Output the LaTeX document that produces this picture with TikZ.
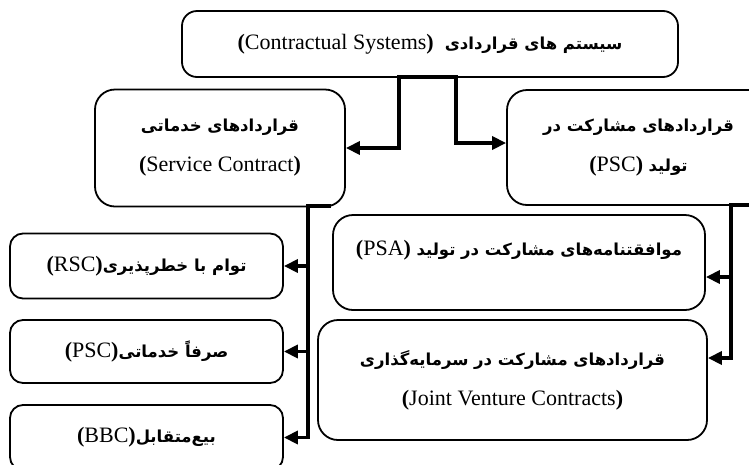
\documentclass[tikz,border=0pt]{standalone}
\usepackage{fontspec}
\setmainfont{Liberation Serif}
\newfontfamily\farsifont[Script=Arabic]{DejaVu Sans}
\TeXXeTstate=1
\usetikzlibrary{arrows.meta}
\newcommand{\fa}[1]{{\farsifont\bfseries\fontsize{16.5}{40}\selectfont\beginR #1\endR}}
\newcommand{\la}[1]{{\fontsize{22}{40}\selectfont\textbf{(}#1\textbf{)}}}
\tikzset{
  box/.style={draw, line width=1.8pt, rounded corners=15pt, inner sep=0pt, align=center,
              font=\fontsize{22}{40}\selectfont},
  bigbox/.style={box, rounded corners=20pt},
  conn/.style={line width=3.5pt},
  tip/.style={-{Triangle[length=14pt,width=13pt]}},
  tips/.style={{Triangle[length=14pt,width=13pt]}-{Triangle[length=14pt,width=13pt]}}
}
\begin{document}
\begin{tikzpicture}[x=1pt,y=-1pt]
\useasboundingbox (0,0) rectangle (749,464);
\clip (0,0) rectangle (749,464);
\fill[white] (0,0) rectangle (749,464);

\node[box, minimum width=496pt, minimum height=66pt] (top) at (430,44)
  {\la{Contractual Systems}\ \ \fa{سیستم های قراردادی}};
\node[bigbox, minimum width=250pt, minimum height=117pt] (service) at (220,148)
  {\fa{قراردادهای خدماتی}\\ \la{Service Contract}};
\node[bigbox, minimum width=263pt, minimum height=115pt] (psc) at (638.5,147.5)
  {\fa{قراردادهای مشارکت در}\\ \la{PSC}\ \fa{تولید}};
\node[bigbox, minimum width=372pt, minimum height=95pt, text height=12pt, text depth=27pt] (psa) at (519,262.5)
  {\la{PSA}\ \fa{موافقتنامه‌های مشارکت در تولید}};
\node[bigbox, minimum width=389pt, minimum height=120pt] (jv) at (512.5,380)
  {\fa{قراردادهای مشارکت در سرمایه‌گذاری}\\ \la{Joint Venture Contracts}};
\node[box, rounded corners=13pt, minimum width=273pt, minimum height=65pt] (rsc) at (146.5,266)
  {\la{RSC}\fa{توام با خطرپذیری}};
\node[box, rounded corners=13pt, minimum width=273pt, minimum height=63pt] (psctwo) at (146.5,351.5)
  {\la{PSC}\fa{صرفاً خدماتی}};
\node[box, rounded corners=13pt, minimum width=273pt, minimum height=65pt] (bbc) at (146.5,437.5)
  {\la{BBC}\fa{بیع‌متقابل}};

% connectors from top box
\coordinate (t1) at (399,77);
\coordinate (t2) at (456,77);
\draw[conn, tips] (service.east |- 0,148) -| (t1) -- (t2) |- (psc.west |- 0,143);

% service contract branches
\coordinate (s0) at (331,206);
\coordinate (s1) at (308,206);
\draw[conn, tip] (s0) -- (s1) |- (bbc.east);
\draw[conn, tip] (s1 |- rsc.east) -- (rsc.east);
\draw[conn, tip] (s1 |- psctwo.east) -- (psctwo.east);

% PSC branches
\coordinate (p0) at (752,205);
\coordinate (p1) at (731,205);
\draw[conn, tip] (p0) -- (p1) |- (jv.east |- 0,358);
\draw[conn, tip] (p1 |- 0,277) -- (psa.east |- 0,277);
\end{tikzpicture}
\end{document}
